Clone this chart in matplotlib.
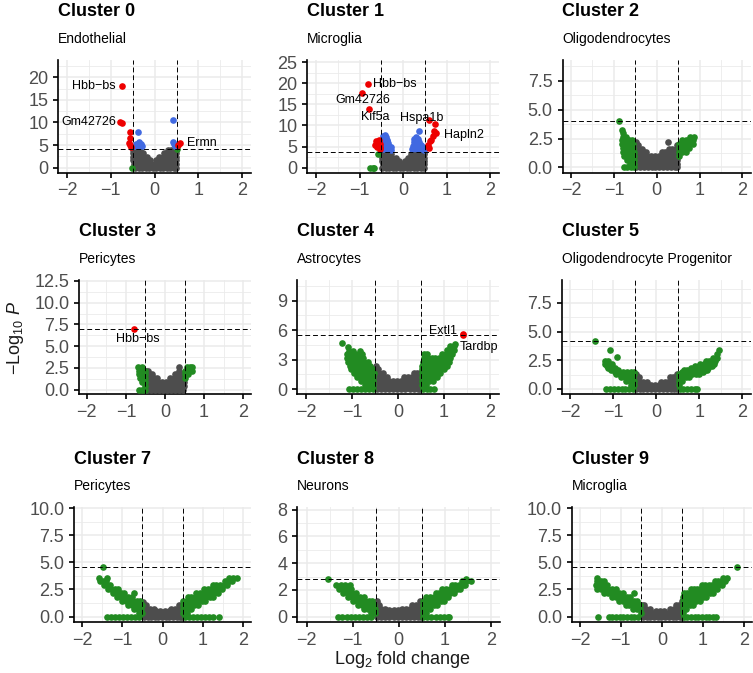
import matplotlib
matplotlib.use("Agg")
import matplotlib.pyplot as plt
from matplotlib.ticker import FixedLocator, AutoMinorLocator, FormatStrFormatter

plt.rcParams['font.family'] = ['Liberation Sans', 'DejaVu Sans']
plt.rcParams['mathtext.fontset'] = 'custom'
plt.rcParams['mathtext.rm'] = 'Liberation Sans'
plt.rcParams['mathtext.it'] = 'Liberation Sans:italic'

# points are stored as rows: (-log10 P, [log2 fold changes])
# groups per cluster: ns (grey), fc (green), p (blue), both (red)

# ---- Cluster 0 ----
c0_ns = [
    (0.0, [-0.44, -0.36, -0.28, -0.2, -0.12, -0.04, 0.04, 0.12, 0.2, 0.28, 0.36, 0.44, 0.48]),
    (0.8, [-0.48, -0.4, -0.32, -0.24, -0.16, -0.08, 0.0, 0.08, 0.16, 0.24, 0.32, 0.4, 0.48]),
    (1.6, [-0.49, -0.41, -0.33, -0.25, -0.17, -0.1, 0.02, 0.1, 0.18, 0.26, 0.34, 0.42, 0.49]),
    (2.4, [-0.49, -0.41, -0.33, -0.25, -0.18, 0.1, 0.18, 0.26, 0.34, 0.42, 0.49]),
    (3.2, [-0.49, -0.42, -0.35, -0.27, 0.22, 0.3, 0.38, 0.45, 0.49]),
    (3.9, [-0.49, -0.42, -0.34, 0.31, 0.38, 0.45, 0.49]),
]
c0_fc = [(0.0, [-0.52]), (4.1, [0.52])]
c0_p = [(10.55, [0.42]), (8.0, [-0.385]), (5.75, [-0.35, 0.41]), (5.3, [-0.31, -0.42, 0.44]),
        (4.7, [-0.46, -0.38, -0.3, 0.47])]
c0_both = [(18.1, [-0.755]), (10.2, [-0.79]), (9.95, [-0.75]), (7.8, [-0.56]), (6.5, [-0.56]),
           (5.4, [-0.59, 0.58]), (5.0, [-0.56, 0.54]), (4.6, [-0.53])]
c0_labels = [("Hbb\u2212bs", -0.885, 18.1, "right"), ("Gm42726", -0.885, 10.2, "right"),
             ("Ermn", 0.73, 5.4, "left")]

# ---- Cluster 1 ----
c1_ns = [
    (0.0, [-0.48, -0.4, -0.32, -0.24, -0.16, -0.08, 0.0, 0.08, 0.16, 0.24, 0.32, 0.4, 0.48]),
    (0.8, [-0.46, -0.38, -0.3, -0.22, -0.14, -0.06, 0.02, 0.1, 0.18, 0.26, 0.34, 0.42, 0.49]),
    (1.6, [-0.49, -0.41, -0.33, -0.25, -0.17, -0.09, 0.05, 0.12, 0.2, 0.28, 0.36, 0.44, 0.49]),
    (2.4, [-0.49, -0.41, -0.33, -0.25, -0.17, 0.12, 0.2, 0.28, 0.36, 0.44, 0.49]),
    (3.2, [-0.49, -0.42, -0.35, -0.28, 0.19, 0.26, 0.33, 0.4, 0.47]),
    (3.7, [-0.49, -0.43, -0.37, 0.24, 0.31, 0.38, 0.45, 0.49]),
]
c1_fc = [(0.0, [-0.75, -0.7, -0.66]), (3.3, [-0.57])]
c1_p = [
    (8.7, [0.37]), (7.8, [-0.42]), (7.6, [-0.46]), (7.2, [-0.4, 0.3]), (7.0, [-0.44]),
    (6.8, [-0.46, 0.26, 0.34]), (6.6, [-0.38]), (6.2, [-0.36, 0.3]), (6.0, [-0.46, -0.4, 0.24, 0.36]),
    (5.8, [-0.34]), (5.4, [0.28, 0.42]), (5.2, [-0.46, -0.4, -0.32, 0.22, 0.34]),
    (5.0, [0.4, 0.46]), (4.8, [-0.28]), (4.6, [0.26, 0.44]),
    (4.4, [-0.46, -0.4, -0.34, 0.2, 0.32, 0.38]), (4.2, [-0.28, 0.48]),
]
c1_both = [(19.7, [-0.81]), (17.7, [-0.95]), (13.9, [-0.79]), (11.3, [0.59]), (10.3, [0.72]),
           (8.7, [0.71]), (8.1, [0.76]), (7.4, [0.68]), (6.6, [0.65, -0.56]), (6.4, [-0.62]),
           (6.2, [0.62]), (6.0, [-0.6]), (5.6, [-0.54]), (5.3, [-0.64, 0.57]), (5.1, [-0.58]),
           (4.8, [-0.52, -0.6]), (4.6, [0.6]), (4.4, [-0.54])]
c1_labels = [("Hbb\u2212bs", -0.70, 19.9, "left"), ("Gm42726", -0.92, 16.1, "center"),
             ("Kif5a", -0.64, 12.0, "center"), ("Hspa1b", 0.43, 11.7, "center"),
             ("Hapln2", 0.93, 7.8, "left")]

# ---- Cluster 2 ----
c2_ns = [
    (0.0, [-0.48, -0.39, -0.3, -0.21, -0.12, -0.03, 0.06, 0.15, 0.24, 0.33, 0.42, 0.48]),
    (0.33, [-0.48, -0.39, -0.3, -0.21, -0.12, -0.03, 0.06, 0.15, 0.24, 0.33, 0.42, 0.48]),
    (0.66, [-0.48, -0.39, -0.3, -0.21, -0.12, -0.03, 0.06, 0.15, 0.24, 0.33, 0.42, 0.48]),
    (1.0, [-0.49, -0.4, -0.31, -0.22, -0.13, -0.04, 0.05, 0.14, 0.23, 0.32, 0.41, 0.49]),
    (1.3, [-0.49, -0.41, -0.33, -0.26, 0.12, 0.2, 0.28, 0.36, 0.44, 0.49]),
    (1.63, [-0.49, -0.42, -0.35, 0.28, 0.36, 0.44, 0.49]),
    (1.96, [-0.49, -0.44, 0.48]),
    (2.2, [-0.49, 0.26]),
]
c2_fc = [
    (0.0, [-0.77, -0.69, -0.61, -0.54]), (0.33, [-0.62, -0.54]), (0.66, [-0.7, -0.62, -0.54]),
    (1.0, [-0.76, -0.68, -0.6, -0.53, 0.52]), (1.33, [-0.78, -0.7, -0.62, -0.54, 0.52, 0.6, 0.68]),
    (1.66, [-0.79, -0.71, -0.63, -0.55, 0.52, 0.6, 0.68, 0.76]),
    (2.0, [-0.8, -0.72, -0.64, -0.56, 0.53, 0.6, 0.68, 0.76, 0.84]),
    (2.33, [-0.8, -0.72, -0.64, -0.57, 0.6, 0.68, 0.76, 0.84]),
    (2.62, [-0.79, -0.72, 0.78, 0.88]), (3.0, [-0.78]), (3.2, [-0.8]), (3.99, [-0.87]),
]
c2_p = []
c2_both = []
c2_labels = []

# ---- Cluster 3 ----
c3_ns = [
    (0.0, [-0.45, -0.35, -0.25, -0.15, -0.05, 0.05, 0.15, 0.25, 0.35, 0.45]),
    (0.45, [-0.48, -0.38, -0.28, -0.18, -0.08, 0.02, 0.12, 0.22, 0.32, 0.42, 0.48]),
    (0.9, [-0.48, -0.38, -0.28, -0.18, -0.08, 0.02, 0.12, 0.22, 0.32, 0.42, 0.48]),
    (1.35, [-0.48, -0.38, -0.28, -0.2, 0.14, 0.22, 0.32, 0.42, 0.48]),
    (1.8, [-0.48, -0.4, -0.32, 0.26, 0.34, 0.42, 0.48]),
    (2.1, [-0.48, -0.43, 0.35]),
    (2.6, [0.35]),
]
c3_fc = [
    (0.0, [-0.66, -0.58, -0.5]), (0.45, [-0.52]), (0.9, [-0.58, -0.51]),
    (1.35, [-0.64, -0.56, -0.5, 0.52]), (1.8, [-0.66, -0.58, -0.51, 0.52, 0.6]),
    (2.2, [-0.66, -0.58, -0.52, 0.52, 0.6, 0.68]), (2.55, [-0.68, -0.6, 0.56, 0.64, 0.7]),
]
c3_p = []
c3_both = [(7.0, [-0.8])]
c3_labels = [("Hbb\u2212bs", -0.69, 5.8, "center")]

# ---- Cluster 4 ----
c4_ns = [
    (0.0, [-0.47, -0.38, -0.29, -0.2, -0.11, -0.02, 0.07, 0.16, 0.25, 0.34, 0.43, 0.48]),
    (0.4, [-0.48, -0.39, -0.3, -0.21, -0.12, -0.03, 0.06, 0.15, 0.24, 0.33, 0.42, 0.48]),
    (0.8, [-0.48, -0.39, -0.3, -0.21, -0.12, -0.03, 0.06, 0.15, 0.24, 0.33, 0.42, 0.48]),
    (1.2, [-0.48, -0.4, -0.32, -0.24, 0.13, 0.22, 0.31, 0.4, 0.48]),
    (1.6, [-0.48, -0.41, -0.34, 0.34, 0.42, 0.48]),
    (2.0, [-0.48, -0.43]),
    (2.35, [-0.48]),
]
c4_fc = [
    (0.0, [-1.08, -0.99, -0.9, -0.81, -0.72, -0.63, -0.54, 0.54, 0.62, 0.7, 0.78]),
    (0.4, [-0.72, -0.63, -0.54, 0.52, 0.6]),
    (0.8, [-0.8, -0.71, -0.62, -0.54, 0.52, 0.6, 0.68, 0.75]),
    (1.2, [-0.9, -0.81, -0.72, -0.63, -0.54, 0.52, 0.6, 0.68, 0.76, 0.84]),
    (1.6, [-0.97, -0.88, -0.79, -0.7, -0.61, -0.53, 0.52, 0.6, 0.68, 0.76, 0.84, 0.92]),
    (2.0, [-1.02, -0.93, -0.84, -0.75, -0.66, -0.57, 0.52, 0.6, 0.68, 0.76, 0.84, 0.92, 0.99]),
    (2.4, [-1.06, -0.97, -0.88, -0.79, -0.7, -0.62, 0.53, 0.61, 0.69, 0.77, 0.85, 0.93, 1.01, 1.06]),
    (2.8, [-1.1, -1.01, -0.92, -0.83, -0.74, -0.66, 0.55, 0.63, 0.71, 0.79, 0.87, 0.95, 1.03, 1.1]),
    (3.2, [-1.12, -1.03, -0.94, -0.85, -0.76, 0.57, 0.65, 0.73, 0.81, 0.89, 0.97, 1.05, 1.13]),
    (3.6, [-1.12, -1.03, -0.94, -0.85, -0.79, 0.56, 0.64, 0.96, 1.04, 1.12, 1.18]),
    (3.9, [-1.08, -0.98, -0.84]), (4.0, [1.06, 1.14, 1.21]),
    (4.3, [-1.1]), (4.4, [1.14, 1.22]), (4.6, [1.23]), (4.68, [-1.23]),
]
c4_p = []
c4_both = [(5.65, [1.41]), (5.5, [1.41])]
c4_labels = [("Extl1", 0.97, 5.93, "center"), ("Tardbp", 1.76, 4.24, "center")]

# ---- Cluster 5 ----
c5_ns = [
    (0.0, [-0.48, -0.39, -0.3, -0.21, -0.12, -0.03, 0.06, 0.15, 0.24, 0.33, 0.42, 0.48]),
    (0.33, [-0.48, -0.39, -0.3, -0.21, -0.12, -0.03, 0.06, 0.15, 0.24, 0.33, 0.42, 0.48]),
    (0.6, [-0.48, -0.39, -0.3, -0.21, 0.1, 0.19, 0.28, 0.37, 0.46]),
    (1.0, [-0.48, -0.4, 0.31, 0.39, 0.47]),
    (1.33, [-0.48, 0.48]),
]
c5_fc = [
    (0.0, [-1.17, -1.08, -0.99, -0.9, -0.81, -0.72, -0.63, -0.54, 0.54, 0.63, 0.72, 0.81, 0.9, 0.95]),
    (0.33, [-0.6, -0.53, 0.52]), (0.66, [-0.7, -0.61, -0.53, 0.52, 0.6]),
    (1.0, [-0.82, -0.73, -0.64, -0.55, 0.52, 0.6, 0.68, 0.76]),
    (1.33, [-0.93, -0.84, -0.75, -0.66, -0.57, -0.52, 0.52, 0.6, 0.68, 0.76, 0.84, 0.92, 0.98]),
    (1.5, [-0.96, -0.87, -0.78, -0.69, -0.6, -0.52, 0.6, 0.7, 0.8, 0.9, 1.0, 1.08]),
    (1.66, [-1.05, -0.96, -0.88, 0.64, 0.72, 0.8, 0.88, 0.96, 1.04, 1.12, 1.17]),
    (1.85, [-1.12, -1.03, -0.95, 0.8, 0.9, 1.0, 1.1, 1.2]),
    (2.0, [-1.15, -1.08, 0.9, 0.98, 1.06, 1.14, 1.22, 1.3]),
    (2.2, [-1.2, -1.12, -1.04, 1.02, 1.1, 1.18, 1.26, 1.33]),
    (2.4, [-1.2, -1.12, 1.15, 1.23, 1.31, 1.37]),
    (2.66, [1.32, 1.4]), (2.77, [-0.92]), (3.0, [1.41]), (3.35, [-1.07, 1.45]), (4.17, [-1.43]),
]
c5_p = []
c5_both = []
c5_labels = []

# ---- Cluster 7 ----
c7_ns = [
    (0.0, [-0.46, -0.37, -0.28, -0.19, -0.1, -0.01, 0.08, 0.17, 0.26, 0.35, 0.44, 0.48]),
    (0.36, [-0.48, -0.39, -0.3, -0.21, -0.12, -0.03, 0.06, 0.15, 0.24, 0.33, 0.42, 0.48]),
    (0.55, [-0.15, -0.05, 0.05, 0.15]),
    (0.72, [-0.48, -0.39, -0.3, -0.21, 0.21, 0.3, 0.39, 0.48]),
    (1.08, [-0.48, -0.41, 0.41, 0.48]),
    (1.3, [-0.48]),
]
c7_fc = [
    (0.0, [-1.38, -1.28, -1.18, -1.08, -0.98, -0.88, -0.78, -0.68, -0.58,
           0.56, 0.66, 0.76, 0.86, 0.96, 1.06, 1.16, 1.26, 1.41]),
    (0.36, [-0.58, -0.52, 0.52, 0.6]),
    (0.72, [-0.7, -0.61, -0.53, 0.52, 0.61, 0.7]),
    (1.08, [-0.86, -0.77, -0.68, -0.59, -0.52, 0.52, 0.61, 0.7, 0.79, 0.88]),
    (1.44, [-1.0, -0.91, -0.82, -0.73, -0.64, -0.57, 0.52, 0.61, 0.7, 0.79, 0.88, 0.97, 1.06]),
    (1.8, [-1.12, -1.03, -0.94, -0.85, -0.76, 0.63, 0.72, 0.81, 0.9, 0.99, 1.08, 1.17, 1.26]),
    (2.16, [-1.22, -1.13, -1.04, -0.96, -0.72, 0.83, 0.92, 1.01, 1.1, 1.19, 1.28, 1.37]),
    (2.52, [-1.36, -1.27, -1.18, -1.1, 1.03, 1.12, 1.21, 1.3, 1.39, 1.48]),
    (2.88, [-1.46, -1.38, -1.3, 1.25, 1.34, 1.43, 1.52, 1.6]),
    (3.24, [-1.56, -1.48, -1.4, 1.56, 1.65, 1.74]),
    (3.58, [-1.58, -1.38, 1.66, 1.75, 1.86]),
    (4.59, [-1.48]),
]
c7_p = []
c7_both = []
c7_labels = []

# ---- Cluster 8 ----
c8_ns = [
    (0.0, [-0.47, -0.38, -0.29, -0.2, -0.11, -0.02, 0.07, 0.16, 0.25, 0.34, 0.43, 0.48]),
    (0.3, [-0.48, -0.39, -0.3, -0.21, -0.12, -0.03, 0.06, 0.15, 0.24, 0.33, 0.42, 0.48]),
    (0.5, [-0.2, -0.11, -0.02, 0.07]),
    (0.6, [-0.48, -0.39, -0.3, 0.07, 0.16, 0.25, 0.34, 0.43, 0.48]),
    (0.9, [-0.48, -0.42, 0.28, 0.37, 0.46]),
    (1.2, [-0.48, 0.46]),
]
c8_fc = [
    (0.0, [-1.31, -1.22, -1.13, -1.04, -0.95, -0.86, -0.77, -0.68, -0.59,
           0.53, 0.62, 0.71, 0.8, 0.89, 0.98, 1.07, 1.1]),
    (0.3, [-0.6, -0.52, 0.52, 0.6]),
    (0.6, [-0.76, -0.67, -0.58, -0.51, 0.52, 0.6, 0.68]),
    (0.9, [-0.88, -0.79, -0.7, -0.61, -0.53, 0.52, 0.6, 0.68, 0.76, 0.84]),
    (1.2, [-1.0, -0.91, -0.82, -0.73, -0.64, -0.57, 0.52, 0.6, 0.68, 0.76, 0.84, 0.92, 0.99]),
    (1.5, [-1.1, -1.01, -0.92, -0.83, -0.76, 0.6, 0.68, 0.76, 0.84, 0.92, 1.0, 1.08]),
    (1.8, [-1.2, -1.11, -1.02, -0.93, 0.8, 0.88, 0.96, 1.04, 1.12, 1.2]),
    (2.1, [-1.3, -1.21, -1.12, -1.03, 0.95, 1.03, 1.11, 1.19, 1.27, 1.33]),
    (2.35, [-1.35, -1.26, -1.16, -1.06]),
    (2.4, [1.15, 1.23, 1.31, 1.39, 1.45]),
    (2.65, [1.38, 1.47, 1.56]),
    (2.84, [-1.53, 1.46]),
]
c8_p = []
c8_both = []
c8_labels = []

# ---- Cluster 9 ----
c9_ns = [
    (0.0, [-0.46, -0.37, -0.28, -0.19, -0.1, -0.01, 0.08, 0.17, 0.26, 0.35, 0.44, 0.48]),
    (0.36, [-0.48, -0.39, -0.3, -0.21, -0.12, -0.03, 0.06, 0.15, 0.24, 0.33, 0.42, 0.48]),
    (0.5, [-0.14, -0.04, 0.06]),
    (0.72, [-0.48, -0.39, -0.3, 0.2, 0.29, 0.38, 0.47]),
    (1.08, [-0.48, -0.43, 0.34, 0.42, 0.48]),
    (1.44, [0.48]),
]
c9_fc = [
    (0.0, [-1.55, -1.3, -1.21, -1.12, -1.03, -0.94, -0.85, -0.76, -0.67, -0.58,
           0.53, 0.62, 0.71, 0.8, 0.89, 0.98, 1.07, 1.16, 1.25, 1.33]),
    (0.36, [-0.52, 0.52]),
    (0.72, [-0.7, -0.61, -0.53, 0.52, 0.6]),
    (1.08, [-0.88, -0.79, -0.7, -0.61, -0.53, 0.52, 0.6, 0.68, 0.76]),
    (1.44, [-1.05, -0.96, -0.87, -0.78, -0.69, -0.6, 0.52, 0.6, 0.68, 0.76, 0.84, 0.92]),
    (1.8, [-1.22, -1.13, -1.04, -0.95, -0.86, -0.77, 0.52, 0.6, 0.68, 0.76, 0.84, 0.92, 1.0, 1.08]),
    (2.16, [-1.4, -1.31, -1.22, -1.13, -1.04, -0.95, -0.69,
            0.54, 0.62, 0.7, 0.78, 0.86, 0.94, 1.02, 1.1, 1.18, 1.24]),
    (2.52, [-1.58, -1.49, -1.4, -1.31, -1.22, -1.13, 0.7, 0.78, 0.86, 0.94, 1.02, 1.1, 1.18, 1.26, 1.34]),
    (2.88, [-1.6, -1.51, -1.42, -1.34, 0.98, 1.06, 1.14, 1.22, 1.3, 1.38, 1.46]),
    (3.24, [-1.58, -1.49, -1.42, 1.3, 1.38, 1.46, 1.54]),
    (3.58, [-1.58, 1.5, 1.58]),
    (4.59, [1.83]),
]
c9_p = []
c9_both = []
c9_labels = []

W, H = 753, 673
COLS = ['#4D4D4D', '#228B22', '#4169E1', '#EE0000']


def unpack(rows):
    xs, ys = [], []
    for y, row in rows:
        xs += row
        ys += [y] * len(row)
    return xs, ys


fig = plt.figure(figsize=(W / 100, H / 100), dpi=100)

panels = [
    ("Cluster 0", "Endothelial", (58.3, 60, 251, 172.7), (-1.1, 23.8), [0, 5, 10, 15, 20], "%d", 4.13,
     [c0_ns, c0_fc, c0_p, c0_both], c0_labels),
    ("Cluster 1", "Microglia", (307.3, 60, 499, 172.7), (-1.2, 25.5), [0, 5, 10, 15, 20, 25], "%d", 3.64,
     [c1_ns, c1_fc, c1_p, c1_both], c1_labels),
    ("Cluster 2", "Oligodendrocytes", (562.5, 60, 751, 172.7), (-0.46, 9.3), [0, 2.5, 5, 7.5], "%.1f", 3.99,
     [c2_ns, c2_fc, c2_p, c2_both], c2_labels),
    ("Cluster 3", "Pericytes", (79, 280, 251, 394), (-0.5, 12.6), [0, 2.5, 5, 7.5, 10, 12.5], "%.1f", 7.0,
     [c3_ns, c3_fc, c3_p, c3_both], c3_labels),
    ("Cluster 4", "Astrocytes", (297.3, 280, 499, 394), (-0.5, 11.1), [0, 3, 6, 9], "%d", 5.46,
     [c4_ns, c4_fc, c4_p, c4_both], c4_labels),
    ("Cluster 5", "Oligodendrocyte Progenitor", (561.7, 280, 751, 394), (-0.45, 9.5), [0, 2.5, 5, 7.5], "%.1f", 4.17,
     [c5_ns, c5_fc, c5_p, c5_both], c5_labels),
    ("Cluster 7", "Pericytes", (74, 507, 251, 622), (-0.5, 10.1), [0, 2.5, 5, 7.5, 10], "%.1f", 4.57,
     [c7_ns, c7_fc, c7_p, c7_both], c7_labels),
    ("Cluster 8", "Neurons", (297.3, 507, 500, 622), (-0.4, 8.2), [0, 2, 4, 6, 8], "%d", 2.84,
     [c8_ns, c8_fc, c8_p, c8_both], c8_labels),
    ("Cluster 9", "Microglia", (571.7, 507, 752, 622), (-0.5, 10.1), [0, 2.5, 5, 7.5, 10], "%.1f", 4.57,
     [c9_ns, c9_fc, c9_p, c9_both], c9_labels),
]

for title, sub, (l, t, r, b), ylim, yticks, fmt, thr, groups, labels in panels:
    ax = fig.add_axes([l / W, 1 - b / H, (r - l) / W, (b - t) / H])
    ax.set_xlim(-2.2, 2.2)
    ax.set_ylim(*ylim)
    ax.xaxis.set_major_locator(FixedLocator([-2, -1, 0, 1, 2]))
    ax.yaxis.set_major_locator(FixedLocator(yticks))
    ax.xaxis.set_minor_locator(AutoMinorLocator(2))
    ax.yaxis.set_minor_locator(AutoMinorLocator(2))
    ax.yaxis.set_major_formatter(FormatStrFormatter(fmt))
    ax.grid(which='major', color='#EBEBEB', lw=1.1)
    ax.grid(which='minor', color='#EBEBEB', lw=0.6)
    ax.set_axisbelow(True)
    for s in ['top', 'right']:
        ax.spines[s].set_visible(False)
    for s in ['left', 'bottom']:
        ax.spines[s].set_linewidth(1.2)
    ax.tick_params(which='major', length=3.5, width=1.2, color='black',
                   labelsize=13, labelcolor='#4D4D4D', pad=3.5)
    ax.tick_params(which='minor', length=0)

    for rows, col in zip(groups, COLS):
        xs, ys = unpack(rows)
        if xs:
            ax.scatter(xs, ys, s=23, color=col, linewidths=0, zorder=3)

    ax.axvline(-0.5, color='black', lw=0.7, ls=(0, (5, 3)), zorder=4)
    ax.axvline(0.5, color='black', lw=0.7, ls=(0, (5, 3)), zorder=4)
    ax.axhline(thr, color='black', lw=0.7, ls=(0, (5, 3)), zorder=4)

    for txt, x, y, ha in labels:
        ax.text(x, y, txt, fontsize=9, ha=ha, va='center', zorder=5)

    fig.text(l / W, 1 - (t - 48) / H, title, fontsize=13, fontweight='bold', va='center', ha='left')
    fig.text(l / W, 1 - (t - 21) / H, sub, fontsize=10, va='center', ha='left')

fig.text(15 / W, 1 - 338 / H, r'$-\mathrm{Log}_{10}\ \mathit{P}$', rotation=90,
         fontsize=13, ha='center', va='center', color='#1A1A1A')
fig.text(402 / W, 1 - 660 / H, r'$\mathrm{Log}_{2}$ fold change',
         fontsize=13, ha='center', va='center', color='#1A1A1A')

fig.savefig("out.png", dpi=100)
